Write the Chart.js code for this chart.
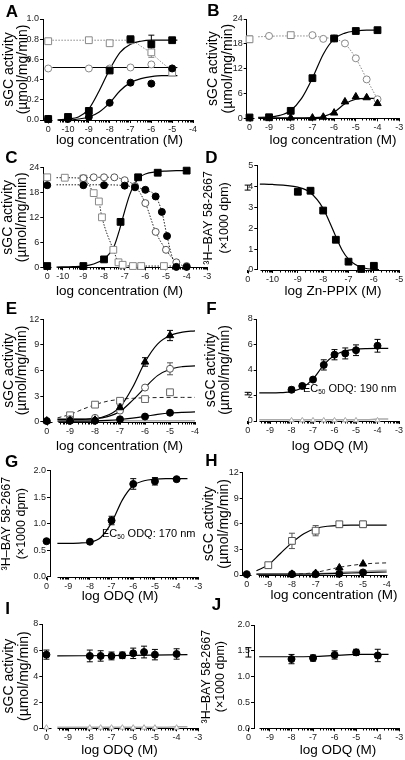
<!DOCTYPE html>
<html>
<head>
<meta charset="utf-8">
<script src="https://cdn.jsdelivr.net/npm/chart.js@4.4.1/dist/chart.umd.min.js"></script>
<style>
  html, body { margin: 0; padding: 0; background: #fff; }
  #figure { position: relative; width: 405px; height: 760px; overflow: hidden; }
  #figure canvas { position: absolute; left: 0; top: 0; }
</style>
</head>
<body>
<div id="figure"></div>
<script>
// ---- data (log dose; 0 = control without compound) ----

// A
const A_DOSE = [0, -10, -9, -8, -7, -6, -5];
const A_FILLED_SQ = [0.01, 0.03, 0.09, 0.49, 0.80, 0.75, 0.79];
const A_FILLED_SQ_ERR = [0, 0, 0, 0, 0, 0.09, 0];
const A_FILLED_CI = [0.01, 0.01, 0.03, 0.17, 0.37, 0.36, 0.51];
const A_OPEN_SQ = [0.78, null, 0.79, 0.76, 0.79, 0.67, 0.47];
const A_OPEN_SQ_ERR = [0, 0, 0, 0, 0, 0.05, 0];
const A_OPEN_CI = [0.51, null, 0.51, 0.51, 0.52, 0.55, 0.51];
const A_FIT_X = [-10.5, -10, -9.5, -9, -8.5, -8, -7.5, -7, -6.5, -6, -5.5, -5, -4.75];
const A_FIT_FILLED_SQ = [0.0, 0.01, 0.03, 0.11, 0.29, 0.50, 0.67, 0.75, 0.78, 0.79, 0.79, 0.79, 0.79];
const A_FIT_FILLED_CI = [0.0, 0.0, 0.01, 0.03, 0.08, 0.17, 0.29, 0.37, 0.41, 0.43, 0.44, 0.44, 0.44];
const A_LINE_OPEN_CI_X = [-10.75, -4.75];
const A_LINE_OPEN_CI = [0.52, 0.52];
const A_LINE_OPEN_SQ_X = [-10.75, -7, -6.5, -6, -5.5, -5, -4.85];
const A_LINE_OPEN_SQ = [0.79, 0.79, 0.73, 0.66, 0.57, 0.49, 0.47];

// B
const B_DOSE_SQ = [0, -9, -8, -7, -6, -5, -4];
const B_FILLED_SQ = [0.2, 0.25, 1.8, 9.7, 19.3, 21.1, 21.3];
const B_DOSE_TRI = [-8, -7, -6.5, -6, -5.5, -5, -4.5, -4];
const B_FILLED_TRI = [0.1, 0.1, 0.3, 1.3, 4.0, 5.2, 5.0, 3.6];
const B_DOSE_OCI = [-9, -7, -6.5, -6, -5.5, -5, -4.5, -4];
const B_OPEN_CI = [19.9, 20.1, 19.2, 19.3, 18.1, 14.5, 9.4, 4.6];
const B_DOSE_OSQ = [0, -8];
const B_OPEN_SQ = [19.1, 20.1];
const B_OPEN_SQ_ERR = [0.8, 0];
const B_FIT_X = [-9.5, -9, -8.5, -8, -7.5, -7, -6.5, -6, -5.5, -5, -4.5, -4];
const B_FIT_SQ = [0.25, 0.3, 0.7, 1.9, 4.8, 9.7, 15.5, 19.2, 20.6, 21.1, 21.3, 21.3];
const B_FIT_TRI = [0.1, 0.1, 0.1, 0.1, 0.12, 0.15, 0.4, 1.5, 3.5, 4.6, 4.8, 4.8];
const B_LINE_OCI = [19.7, 19.8, 19.9, 19.9, 19.9, 19.9, 19.5, 19.2, 18.0, 14.5, 9.5, 4.6];

// C
const C_DOSE_FSQ = [0, -9, -8, -7.2, -6.35, -5.4, -4];
const C_FILLED_SQ = [0.3, 0.3, 1.9, 10.9, 21.6, 22.7, 23.2];
const C_FIT_X = [-10.3, -9.5, -9, -8.5, -8, -7.75, -7.5, -7.25, -7, -6.75, -6.5, -6.25, -6, -5.5, -5, -4.5, -4];
const C_FIT_SQ = [0.05, 0.15, 0.3, 0.8, 2.0, 3.2, 5.2, 9.0, 13.5, 17.5, 20.2, 21.7, 22.4, 22.9, 23.1, 23.2, 23.2];
const C_DOSE_OSQ = [0, -9.9, -9, -8.5, -8.25, -8.1, -7.55, -7.3, -7.1, -6.6, -6.2, -5.1];
const C_OPEN_SQ = [21.6, 21.5, 21.3, 17.8, 15.8, 12.0, 4.2, 1.2, 0.6, 0.3, 0.3, 0.3];
const C_LINE_OSQ_X = [-10.3, -9.9, -9, -8.5, -8.25, -8.1, -7.55, -7.3, -7.1, -6.6, -6.2, -5.1, -4.6];
const C_LINE_OSQ = [21.5, 21.5, 21.3, 17.8, 15.8, 12.0, 4.2, 1.2, 0.6, 0.3, 0.3, 0.3, 0.3];
const C_DOSE_OCI = [-9, -8.5, -8, -7.5, -7, -6.5, -6, -5.5, -5, -4.5, -4];
const C_OPEN_CI = [21.4, 21.6, 21.6, 21.6, 20.9, 19.5, 15.4, 8.5, 4.2, 1.2, 0.3];
const C_LINE_OCI_X = [-9, -8.5, -8, -7.5, -7, -6.5, -6, -5.5, -5, -4.5, -4.2];
const C_LINE_OCI = [21.4, 21.6, 21.6, 21.6, 20.9, 19.5, 15.4, 8.5, 4.2, 1.2, 0.4];
const C_DOSE_FCI = [0, -9, -8, -7, -6.5, -6, -5.5, -5.2, -4.95, -4.5, -4];
const C_FILLED_CI = [19.7, 19.7, 19.7, 19.6, 19.2, 18.6, 17.0, 13.3, 7.5, 0.1, 0.1];
const C_LINE_FCI_X = [-10.3, -9, -8, -7, -6.5, -6, -5.5, -5.2, -4.95, -4.7, -4.45];
const C_LINE_FCI = [19.8, 19.8, 19.8, 19.6, 19.2, 18.6, 17.0, 13.3, 7.5, 2.5, 0.2];

// D
const D_DOSE = [0, -9, -8.5, -8, -7.5, -7, -6.5, -6];
const D_BOUND = [3.95, 3.75, 3.8, 2.85, 1.45, 0.4, 0.05, 0.2];
const D_BOUND_ERR = [0.12, 0.12, 0.12, 0.1, 0.08, 0, 0, 0];
const D_FIT_X = [-10.5, -10, -9.5, -9, -8.5, -8, -7.75, -7.5, -7.25, -7, -6.75, -6.5, -6.25, -6, -5.8];
const D_FIT = [4.12, 4.1, 4.06, 3.97, 3.7, 2.95, 2.3, 1.6, 0.95, 0.52, 0.27, 0.13, 0.06, 0.03, 0.02];

// E
const E_DOSE = [0, -9, -8, -7, -6, -5];
const E_FILLED_TRI = [0.1, 0.15, 0.2, 1.65, 7.0, 10.1];
const E_FILLED_TRI_ERR = [0, 0, 0, 0.2, 0.5, 0.6];
const E_OPEN_CI = [null, 0.3, 0.45, 1.3, 4.0, 6.2];
const E_OPEN_CI_ERR = [0, 0, 0, 0, 0, 0.7];
const E_OPEN_SQ = [null, 0.75, 2.0, 2.45, 2.65, 3.45];
const E_FILLED_CI = [0.08, 0.1, 0.12, 0.28, 0.6, 1.05];
const E_FIT_X = [-9.5, -9, -8.5, -8, -7.5, -7, -6.5, -6, -5.5, -5, -4.5, -4];
const E_FIT_TRI = [0.25, 0.26, 0.28, 0.35, 0.75, 1.7, 4.0, 7.0, 9.1, 10.1, 10.5, 10.65];
const E_FIT_OPEN_CI = [0.3, 0.3, 0.3, 0.35, 0.6, 1.2, 2.5, 4.0, 5.4, 6.15, 6.45, 6.55];
const E_FIT_OPEN_SQ = [0.45, 0.85, 1.45, 2.0, 2.4, 2.62, 2.74, 2.8, 2.83, 2.85, 2.85, 2.85];
const E_FIT_FILLED_CI = [0.05, 0.06, 0.07, 0.1, 0.16, 0.26, 0.42, 0.62, 0.85, 1.02, 1.1, 1.14];
const E_GREY_X = [-9.5, -4];
const E_GREY = [0.1, 0.1];

// F
const F_DOSE = [0, -8, -7.5, -7, -6.5, -6, -5.5, -5, -4];
const F_ACT = [2.15, 2.45, 2.75, 3.25, 4.4, 5.2, 5.3, 5.55, 5.9];
const F_ACT_ERR = [0.1, 0.2, 0.15, 0.15, 0.4, 0.4, 0.43, 0.42, 0.5];
const F_NOHEME = [0.05, 0.05, 0.05, 0.05, 0.05, 0.05, 0.05, 0.05, 0.05];
const F_FIT_X = [-9.5, -9, -8.5, -8, -7.5, -7, -6.5, -6, -5.5, -5, -4.5, -4, -3.5];
const F_FIT = [2.2, 2.2, 2.22, 2.3, 2.6, 3.3, 4.4, 5.15, 5.5, 5.63, 5.68, 5.7, 5.7];
const F_GREY_X = [-9.5, -4.5, -4, -3.5];
const F_GREY = [0.1, 0.1, 0.15, 0.15];

// G
const G_DOSE = [0, -8, -7, -6, -5, -4];
const G_BOUND = [0.67, 0.66, 1.06, 1.75, 1.8, 1.84];
const G_BOUND_ERR = [0.02, 0.02, 0.08, 0.1, 0.07, 0.03];
const G_FIT_X = [-9.5, -9, -8.5, -8, -7.5, -7, -6.5, -6, -5.5, -5, -4.5, -4, -3.5];
const G_FIT = [0.63, 0.63, 0.635, 0.65, 0.74, 1.02, 1.45, 1.72, 1.81, 1.84, 1.85, 1.85, 1.85];

// H
const H_DOSE = [0, -9, -8, -7, -6, -5];
const H_OPEN_SQ = [null, 1.15, 4.0, 5.2, 5.95, 5.95];
const H_OPEN_SQ_ERR = [0, 0.15, 0.9, 0.6, 0.3, 0.35];
const H_FILLED_TRI = [null, null, 0.1, 0.2, 0.85, 1.3];
const H_FILLED_CI = [0.1, null, 0.1, 0.1, 0.15, 0.3];
const H_FIT_X = [-9.5, -9, -8.5, -8, -7.5, -7, -6.5, -6, -5.5, -5, -4.5, -4];
const H_FIT_OPEN_SQ = [0.5, 1.2, 2.5, 3.8, 4.85, 5.45, 5.72, 5.83, 5.85, 5.85, 5.85, 5.85];
const H_LINE_TRI_X = [-8, -7.5, -7, -6.5, -6, -5.5, -5, -4.5, -4];
const H_LINE_TRI = [0.1, 0.15, 0.3, 0.6, 0.9, 1.12, 1.28, 1.38, 1.42];
const H_LINE_CI_X = [-9.5, -7, -6, -5, -4];
const H_LINE_CI = [0.1, 0.12, 0.18, 0.28, 0.35];
const H_GREY = [0.1, 0.15, 0.3, 0.45, 0.55];

// I
const I_DOSE = [0, -8, -7.5, -7, -6.5, -6, -5.5, -5, -4];
const I_ACT = [5.65, 5.55, 5.55, 5.55, 5.6, 5.75, 5.85, 5.65, 5.7];
const I_ACT_ERR = [0.35, 0.45, 0.4, 0.3, 0.25, 0.4, 0.45, 0.4, 0.4];
const I_NOHEME = [0.05, 0.05, 0.05, 0.05, 0.05, 0.05, 0.05, 0.05, 0.05];
const I_FIT_X = [-9.5, -6, -3.5];
const I_FIT = [5.55, 5.6, 5.65];
const I_GREY_X = [-9.5, -4.5, -4, -3.5];
const I_GREY = [0.08, 0.08, 0.12, 0.12];

// J
const J_DOSE = [0, -8, -7, -6, -5, -4];
const J_BOUND = [1.47, 1.34, 1.36, 1.42, 1.47, 1.41];
const J_BOUND_ERR = [0.09, 0.09, 0.06, 0.08, 0.06, 0.12];
const J_FIT_X = [-9.5, -8, -7, -6, -5, -4, -3.5];
const J_FIT = [1.385, 1.385, 1.39, 1.41, 1.43, 1.43, 1.43];

// ---- styling ----
const FONT = "'Liberation Sans', Arial, Helvetica, sans-serif";
Chart.defaults.font.family = FONT;
const X_AXIS_H = 16;
const ERR_CAP = 3;
const STUB = 0.2;
const TICK_FONT = 9;
const SGC_TITLE = ['sGC activity', '(µmol/mg/min)'];
const BAY_TITLE = ['³H–BAY 58-2667', '(×1000 dpm)'];

const FILLED_SQ = { shape: 'rect', r: 4.8, fill: '#000', stroke: '#000' };
const FILLED_CI = { shape: 'circle', r: 3.5, fill: '#000', stroke: '#000' };
const FILLED_TRI = { shape: 'triangle', r: 4.3, fill: '#000', stroke: '#000' };
const openSq = c => ({ shape: 'rect', r: 4.8, fill: '#fff', stroke: c });
const openCi = c => ({ shape: 'circle', r: 3.5, fill: '#fff', stroke: c });
const GREY_TRI = { shape: 'triangle', r: 3, fill: '#fff', stroke: '#aaa' };

const SOLID = { color: '#000', width: 1.2 };
const DOTTED = { color: '#222', dash: [1.5, 1.5] };
const GREY_DOTTED = { color: '#888', dash: [1.5, 1.5] };
const DASHED = { color: '#222', dash: [4, 3] };
const GREY_LINE = { color: '#aaa', width: 1.5 };

function markers(geo, xs, ys, errs, look) {
  const data = [];
  const e = [];
  xs.forEach((x, i) => {
    if (ys[i] == null) return;
    data.push({ x: x === 0 ? geo.ctrl : x, y: ys[i] });
    e.push(errs ? errs[i] : 0);
  });
  return {
    data, errs: e, showLine: false, clip: false,
    pointStyle: look.shape, pointRadius: look.r, pointHoverRadius: look.r,
    pointBackgroundColor: look.fill, pointBorderColor: look.stroke,
    pointBorderWidth: 1, borderColor: look.stroke
  };
}

function curve(xs, ys, look) {
  return {
    data: xs.map((x, i) => ({ x, y: ys[i] })),
    showLine: true, pointRadius: 0, clip: false, fill: false,
    borderColor: look.color, borderWidth: look.width || 1,
    borderDash: look.dash || [], cubicInterpolationMode: 'monotone'
  };
}

const errorBars = {
  id: 'errorBars',
  beforeDatasetsDraw(chart) {
    const ctx = chart.ctx;
    const ys = chart.scales.y;
    chart.data.datasets.forEach((ds, i) => {
      if (!ds.errs) return;
      const meta = chart.getDatasetMeta(i);
      ctx.save();
      ctx.strokeStyle = ds.pointBorderColor;
      ctx.lineWidth = 1;
      ds.data.forEach((p, j) => {
        const e = ds.errs[j];
        if (!e) return;
        const x = meta.data[j].x;
        const y1 = ys.getPixelForValue(p.y + e);
        const y2 = ys.getPixelForValue(p.y - e);
        ctx.beginPath();
        ctx.moveTo(x, y1); ctx.lineTo(x, y2);
        ctx.moveTo(x - ERR_CAP, y1); ctx.lineTo(x + ERR_CAP, y1);
        ctx.moveTo(x - ERR_CAP, y2); ctx.lineTo(x + ERR_CAP, y2);
        ctx.stroke();
      });
      ctx.restore();
    });
  }
};

function xTickValues(geo) {
  const out = [geo.ctrl];
  for (let v = Math.ceil(geo.axisStart); v <= geo.xMax; v++) out.push(v);
  return out;
}

function zeroPad(s) {
  s.paddingLeft = 0; s.paddingRight = 0; s.paddingTop = 0; s.paddingBottom = 0;
}

// broken log-dose axis with minor ticks, titles and panel letter
function axisDecor(geo) {
  return {
    id: 'axisDecor',
    beforeDatasetsDraw(chart) {
      const ctx = chart.ctx;
      const xs = chart.scales.x;
      const ca = chart.chartArea;
      const yb = Math.round(ca.bottom) + 0.5;
      const px = v => Math.round(xs.getPixelForValue(v)) + 0.5;
      ctx.save();
      ctx.strokeStyle = '#000';
      ctx.lineWidth = 1;
      ctx.beginPath();
      ctx.moveTo(px(geo.axisStart), yb);
      ctx.lineTo(px(geo.xMax), yb);
      if (geo.ctrl > geo.xMin) {
        ctx.moveTo(ca.left, yb);
        ctx.lineTo(px(geo.ctrl + STUB), yb);
      }
      ctx.moveTo(px(geo.ctrl), yb);
      ctx.lineTo(px(geo.ctrl), yb + 3);
      for (let n = Math.floor(geo.axisStart); n < geo.xMax; n++) {
        for (let k = 2; k <= 9; k++) {
          const v = n + Math.log10(k);
          if (v > geo.axisStart && v < geo.xMax) {
            ctx.moveTo(px(v), yb);
            ctx.lineTo(px(v), yb + 2);
          }
        }
      }
      ctx.stroke();
      ctx.restore();
    },
    afterDraw(chart) {
      const ctx = chart.ctx;
      ctx.save();
      ctx.fillStyle = '#000';
      ctx.textAlign = 'center';
      ctx.textBaseline = 'middle';
      ctx.font = `13.5px ${FONT}`;
      ctx.fillText(geo.xTitle, geo.xTitleCx, geo.xTitleCy);
      ctx.font = `bold 17px ${FONT}`;
      ctx.fillText(geo.letter, geo.letterX, geo.letterY);
      if (geo.note) {
        let x = chart.scales.x.getPixelForValue(geo.note.x);
        const y = chart.scales.y.getPixelForValue(geo.note.y);
        ctx.textAlign = 'left';
        ctx.font = `11px ${FONT}`;
        ctx.fillText('EC', x, y);
        x += ctx.measureText('EC').width;
        ctx.font = `6.5px ${FONT}`;
        ctx.fillText('50', x, y + 3);
        x += ctx.measureText('50').width;
        ctx.font = `11px ${FONT}`;
        ctx.fillText(geo.note.text, x, y);
      }
      ctx.restore();
    }
  };
}

function panel(geo, datasets) {
  const canvas = document.createElement('canvas');
  canvas.width = 405;
  canvas.height = 760;
  document.getElementById('figure').appendChild(canvas);
  const yBoxLeft = geo.yTitleCx - geo.yTitleLH / 2;
  new Chart(canvas, {
    type: 'line',
    data: { datasets },
    options: {
      responsive: false,
      animation: false,
      events: [],
      layout: {
        padding: {
          left: yBoxLeft, top: geo.top,
          right: 405 - geo.right, bottom: 760 - geo.bottom - X_AXIS_H
        }
      },
      plugins: { legend: { display: false }, tooltip: { enabled: false } },
      scales: {
        x: {
          type: 'linear', min: geo.xMin, max: geo.xMax,
          border: { display: false },
          grid: { drawOnChartArea: false, tickLength: 3, color: '#000' },
          ticks: {
            autoSkip: false, maxRotation: 0, padding: 1, color: '#222',
            font: { size: TICK_FONT },
            callback: v => (v === geo.ctrl ? '0' : String(v))
          },
          afterBuildTicks: s => { s.ticks = xTickValues(geo).map(value => ({ value })); },
          afterFit: s => { s.height = X_AXIS_H; zeroPad(s); }
        },
        y: {
          type: 'linear', min: geo.yMin, max: geo.yMax,
          border: { display: true, color: '#000', width: 1 },
          grid: { drawOnChartArea: false, tickLength: 3, color: '#000' },
          ticks: {
            stepSize: geo.yStep, padding: 1, color: '#222', font: { size: TICK_FONT },
            callback: v => v.toFixed(geo.yDec)
          },
          title: {
            display: true, text: geo.yTitle, color: '#000', padding: 0,
            font: { size: geo.yTitleSize, lineHeight: geo.yTitleLH + 'px' }
          },
          afterFit: s => { s.width = geo.left - yBoxLeft; zeroPad(s); }
        }
      }
    },
    plugins: [errorBars, axisDecor(geo)]
  });
}

// ---- panels ----
const gA = { letter: 'A', letterX: 12, letterY: 12, left: 43, right: 193, top: 19, bottom: 120,
  xMin: -11.2, xMax: -4, ctrl: -10.95, axisStart: -10.5, yMin: 0, yMax: 1, yStep: 0.2, yDec: 1,
  yTitle: SGC_TITLE, yTitleCx: 9.5, yTitleLH: 13.5, yTitleSize: 14,
  xTitle: 'log concentration (M)', xTitleCx: 119.5, xTitleCy: 140 };
panel(gA, [
  markers(gA, A_DOSE, A_FILLED_SQ, A_FILLED_SQ_ERR, FILLED_SQ),
  markers(gA, A_DOSE, A_FILLED_CI, null, FILLED_CI),
  markers(gA, A_DOSE, A_OPEN_SQ, A_OPEN_SQ_ERR, openSq('#888')),
  markers(gA, A_DOSE, A_OPEN_CI, null, openCi('#888')),
  curve(A_FIT_X, A_FIT_FILLED_SQ, SOLID),
  curve(A_FIT_X, A_FIT_FILLED_CI, SOLID),
  curve(A_LINE_OPEN_CI_X, A_LINE_OPEN_CI, SOLID),
  curve(A_LINE_OPEN_SQ_X, A_LINE_OPEN_SQ, GREY_DOTTED)
]);

const gB = { letter: 'B', letterX: 213.5, letterY: 11.5, left: 246.7, right: 400, top: 19, bottom: 118.3,
  xMin: -10.03, xMax: -3, ctrl: -9.9, axisStart: -9.5, yMin: 0, yMax: 24, yStep: 6, yDec: 0,
  yTitle: SGC_TITLE, yTitleCx: 213.5, yTitleLH: 15, yTitleSize: 14,
  xTitle: 'log concentration (M)', xTitleCx: 333, xTitleCy: 140 };
panel(gB, [
  markers(gB, B_DOSE_SQ, B_FILLED_SQ, null, FILLED_SQ),
  markers(gB, B_DOSE_TRI, B_FILLED_TRI, null, FILLED_TRI),
  markers(gB, B_DOSE_OCI, B_OPEN_CI, null, openCi('#888')),
  markers(gB, B_DOSE_OSQ, B_OPEN_SQ, B_OPEN_SQ_ERR, openSq('#888')),
  curve(B_FIT_X, B_FIT_SQ, SOLID),
  curve(B_FIT_X, B_FIT_TRI, SOLID),
  curve(B_FIT_X, B_LINE_OCI, GREY_DOTTED)
]);

const gC = { letter: 'C', letterX: 11.5, letterY: 158.5, left: 43.3, right: 207.3, top: 167.3, bottom: 267.3,
  xMin: -10.94, xMax: -3, ctrl: -10.75, axisStart: -10.3, yMin: 0, yMax: 24, yStep: 6, yDec: 0,
  yTitle: SGC_TITLE, yTitleCx: 8.5, yTitleLH: 14, yTitleSize: 14,
  xTitle: 'log concentration (M)', xTitleCx: 119.5, xTitleCy: 291 };
panel(gC, [
  markers(gC, C_DOSE_FSQ, C_FILLED_SQ, null, FILLED_SQ),
  markers(gC, C_DOSE_FCI, C_FILLED_CI, null, FILLED_CI),
  markers(gC, C_DOSE_OCI, C_OPEN_CI, null, openCi('#555')),
  markers(gC, C_DOSE_OSQ, C_OPEN_SQ, null, openSq('#888')),
  curve(C_FIT_X, C_FIT_SQ, SOLID),
  curve(C_LINE_FCI_X, C_LINE_FCI, DOTTED),
  curve(C_LINE_OCI_X, C_LINE_OCI, DOTTED),
  curve(C_LINE_OSQ_X, C_LINE_OSQ, DOTTED)
]);

const gD = { letter: 'D', letterX: 211.5, letterY: 158.5, left: 257.3, right: 400, top: 165.7, bottom: 270,
  xMin: -10.6, xMax: -5, ctrl: -10.98, axisStart: -10.5, yMin: 0, yMax: 5, yStep: 1, yDec: 0,
  yTitle: BAY_TITLE, yTitleCx: 208.5, yTitleLH: 16, yTitleSize: 12.5,
  xTitle: 'log Zn-PPIX (M)', xTitleCx: 333, xTitleCy: 291 };
panel(gD, [
  markers(gD, D_DOSE, D_BOUND, D_BOUND_ERR, FILLED_SQ),
  curve(D_FIT_X, D_FIT, SOLID)
]);

const gE = { letter: 'E', letterX: 11.5, letterY: 309, left: 43.3, right: 195, top: 319.3, bottom: 421.7,
  xMin: -10.07, xMax: -4, ctrl: -9.93, axisStart: -9.5, yMin: 0, yMax: 12, yStep: 3, yDec: 0,
  yTitle: SGC_TITLE, yTitleCx: 9, yTitleLH: 13.5, yTitleSize: 14,
  xTitle: 'log concentration (M)', xTitleCx: 119.5, xTitleCy: 446 };
panel(gE, [
  markers(gE, E_DOSE, E_FILLED_TRI, E_FILLED_TRI_ERR, FILLED_TRI),
  markers(gE, E_DOSE, E_FILLED_CI, null, FILLED_CI),
  markers(gE, E_DOSE, E_OPEN_CI, E_OPEN_CI_ERR, openCi('#555')),
  markers(gE, E_DOSE, E_OPEN_SQ, null, openSq('#666')),
  curve(E_FIT_X, E_FIT_TRI, SOLID),
  curve(E_FIT_X, E_FIT_OPEN_CI, SOLID),
  curve(E_FIT_X, E_FIT_OPEN_SQ, DASHED),
  curve(E_FIT_X, E_FIT_FILLED_CI, SOLID),
  curve(E_GREY_X, E_GREY, GREY_LINE)
]);

const gF = { letter: 'F', letterX: 211.5, letterY: 309, left: 256.7, right: 399, top: 319, bottom: 421,
  xMin: -9.62, xMax: -3, ctrl: -10.04, axisStart: -9.5, yMin: 0, yMax: 8, yStep: 2, yDec: 0,
  yTitle: SGC_TITLE, yTitleCx: 211, yTitleLH: 14, yTitleSize: 14,
  xTitle: 'log ODQ (M)', xTitleCx: 330, xTitleCy: 446,
  note: { x: -7.47, y: 2.51, text: ' ODQ: 190 nm' } };
panel(gF, [
  markers(gF, F_DOSE, F_ACT, F_ACT_ERR, FILLED_CI),
  markers(gF, F_DOSE, F_NOHEME, null, GREY_TRI),
  curve(F_FIT_X, F_FIT, SOLID),
  curve(F_GREY_X, F_GREY, GREY_LINE)
]);

const gG = { letter: 'G', letterX: 11.5, letterY: 462.5, left: 50, right: 198.3, top: 470.7, bottom: 576.7,
  xMin: -9.84, xMax: -3, ctrl: -10.0, axisStart: -9.5, yMin: 0, yMax: 2, yStep: 0.5, yDec: 1,
  yTitle: BAY_TITLE, yTitleCx: 6.5, yTitleLH: 15, yTitleSize: 12.5,
  xTitle: 'log ODQ (M)', xTitleCx: 120, xTitleCy: 596,
  note: { x: -7.44, y: 0.81, text: ' ODQ: 170 nm' } };
panel(gG, [
  markers(gG, G_DOSE, G_BOUND, G_BOUND_ERR, FILLED_CI),
  curve(G_FIT_X, G_FIT, SOLID)
]);

const gH = { letter: 'H', letterX: 211.5, letterY: 461.5, left: 242.7, right: 386.7, top: 472.7, bottom: 575,
  xMin: -10.08, xMax: -4, ctrl: -9.91, axisStart: -9.45, yMin: 0, yMax: 12, yStep: 3, yDec: 0,
  yTitle: SGC_TITLE, yTitleCx: 209, yTitleLH: 15.5, yTitleSize: 14,
  xTitle: 'log concentration (M)', xTitleCx: 334, xTitleCy: 595 };
panel(gH, [
  markers(gH, H_DOSE, H_FILLED_CI, null, FILLED_CI),
  markers(gH, H_DOSE, H_FILLED_TRI, null, FILLED_TRI),
  markers(gH, H_DOSE, H_OPEN_SQ, H_OPEN_SQ_ERR, openSq('#555')),
  curve(H_FIT_X, H_FIT_OPEN_SQ, SOLID),
  curve(H_LINE_TRI_X, H_LINE_TRI, DASHED),
  curve(H_LINE_CI_X, H_LINE_CI, SOLID),
  curve(H_LINE_CI_X, H_GREY, GREY_LINE)
]);

const gI = { letter: 'I', letterX: 7.5, letterY: 609.5, left: 42.3, right: 198.3, top: 624, bottom: 728.3,
  xMin: -10.19, xMax: -3, ctrl: -10.0, axisStart: -9.5, yMin: 0, yMax: 8, yStep: 2, yDec: 0,
  yTitle: SGC_TITLE, yTitleCx: 9, yTitleLH: 15, yTitleSize: 14,
  xTitle: 'log ODQ (M)', xTitleCx: 119.5, xTitleCy: 750 };
panel(gI, [
  markers(gI, I_DOSE, I_ACT, I_ACT_ERR, FILLED_CI),
  markers(gI, I_DOSE, I_NOHEME, null, GREY_TRI),
  curve(I_FIT_X, I_FIT, SOLID),
  curve(I_GREY_X, I_GREY, GREY_LINE)
]);

const gJ = { letter: 'J', letterX: 216.5, letterY: 605, left: 254, right: 399.3, top: 625, bottom: 728.3,
  xMin: -9.74, xMax: -3, ctrl: -10.0, axisStart: -9.5, yMin: 0, yMax: 2, yStep: 0.5, yDec: 1,
  yTitle: BAY_TITLE, yTitleCx: 207, yTitleLH: 13.5, yTitleSize: 12.5,
  xTitle: 'log ODQ (M)', xTitleCx: 338, xTitleCy: 750 };
panel(gJ, [
  markers(gJ, J_DOSE, J_BOUND, J_BOUND_ERR, FILLED_CI),
  curve(J_FIT_X, J_FIT, SOLID)
]);
</script>
</body>
</html>
